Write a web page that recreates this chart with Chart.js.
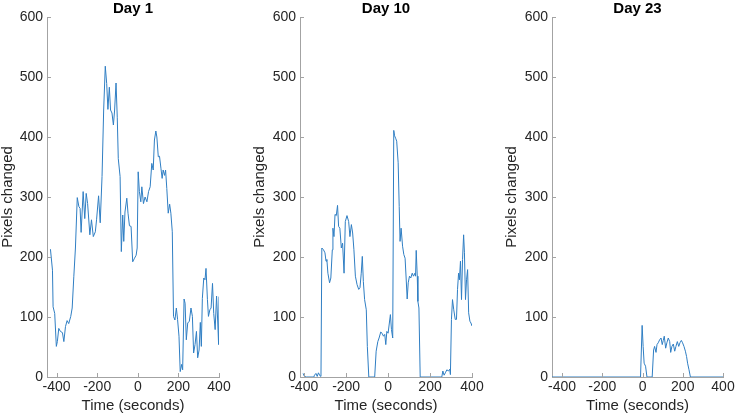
<!DOCTYPE html>
<html lang="en">
<head>
<meta charset="UTF-8">
<title>Pixels changed</title>
<script src="https://cdn.jsdelivr.net/npm/chart.js"></script>
<style>
  body { margin: 0; background: #fff; }
  #wrap { position: relative; width: 737px; height: 419px; }
  canvas { position: absolute; top: 0; }
</style>
</head>
<body>
<div id="wrap">
  <canvas id="day1" width="241" height="419" style="left:0px"></canvas>
  <canvas id="day10" width="240" height="419" style="left:252px"></canvas>
  <canvas id="day23" width="233" height="419" style="left:504px"></canvas>
</div>
<script>
// values
const day1Time = [-430,-420,-417,-409,-401,-396,-389,-381,-371,-364,
  -356,-348,-340,-330,-323,-315,-307,-298,-290,-284,
  -279,-269,-261,-254,-247,-236,-228,-219,-209,-203,
  -193,-185,-176,-168,-160,-153,-147,-140,-134,-127,
  -120,-114,-107,-101,-96,-87,-81,-74,-69,-63,
  -54,-48,-41,-33,-25,-16,-8,-3,2,8,
  15,20,28,36,45,53,61,69,76,82,
  89,94,101,107,114,120,125,132,137,143,
  150,157,163,170,176,183,190,196,203,209,
  216,221,228,233,239,246,254,262,269,275,
  282,289,295,302,308,313,318,325,331,336,
  343,348,355,361,368,374,381,388,394,398,400];
const day1Pixels = [213,178,117,106,51,59,81,76,74,59,
  84,94,89,101,115,167,215,299,284,281,
  241,309,264,306,289,237,262,234,242,262,
  302,257,334,445,518,489,446,483,445,440,
  420,445,490,433,364,334,209,270,226,275,
  298,273,252,251,192,198,203,215,342,309,
  292,317,289,300,292,309,317,356,345,395,
  410,400,367,368,348,331,345,336,345,314,
  273,288,273,242,101,95,115,96,68,9,
  21,12,130,123,62,90,93,115,101,40,
  54,76,32,45,91,51,131,165,162,181,
  129,101,112,115,156,106,79,135,90,54,134];

const day10Time = [-405,-399,-389,-354,-351,-344,-338,-332,-325,-320,
  -316,-308,-301,-296,-292,-287,-279,-273,-266,-263,
  -258,-253,-247,-241,-236,-230,-223,-217,-210,-204,
  -196,-188,-182,-175,-169,-163,-156,-148,-140,-134,
  -128,-123,-118,-112,-104,-99,-92,-64,-57,-49,
  -43,-35,-29,-22,-16,-11,-6,0,6,11,
  16,22,27,31,37,41,48,53,57,62,
  69,75,81,86,91,96,102,108,115,121,
  128,131,134,139,142,147,153,256,261,267,
  273,280,288,294,297,302,307,313,320,326,
  331,336,340,345,350,355,360,364,369,374,
  379,384,390,395,400];
const day10Pixels = [6,1,0,0,3,6,1,7,2,1,
  215,212,207,193,196,173,157,165,212,248,
  234,271,269,286,251,248,215,223,173,259,
  269,259,234,254,240,212,168,154,146,149,
  173,201,159,129,112,51,0,0,43,59,
  65,75,73,68,71,54,76,73,90,104,
  79,65,411,402,397,393,357,284,226,248,
  218,204,198,165,130,157,168,165,173,168,
  173,168,211,168,126,115,0,0,10,3,
  7,12,10,13,4,96,129,112,96,96,
  146,173,162,193,129,196,237,207,129,162,
  179,107,93,90,85];

const day23Time = [-450,-10,-2,3,8,15,22,48,55,60,
  67,72,78,85,92,98,103,108,115,121,
  128,135,140,146,153,160,166,173,180,186,
  193,199,206,213,219,224,231,238,400];
const day23Pixels = [0,0,86,51,23,18,0,0,45,51,
  41,54,57,62,65,54,61,68,48,57,
  65,59,41,51,55,43,51,59,51,57,
  61,57,51,43,34,23,12,0,0];

const panelTitles = ['Day 1', 'Day 10', 'Day 23'];
const panelXMin = [-447, -420, -450];
const xTicks = [-400, -200, 0, 200, 400];
const yTicks = [0, 100, 200, 300, 400, 500, 600];

const axisColor = '#a3a3a3';
const textColor = '#262626';
const lineColor = '#2f7ec3';
const fontFamily = '"Liberation Sans", Arial, Helvetica, sans-serif';

// MATLAB-like ticks pointing into the plot
const innerTicks = {
  id: 'innerTicks',
  afterDatasetsDraw(chart) {
    const {ctx, chartArea: a, scales: {x, y}} = chart;
    ctx.save();
    ctx.strokeStyle = axisColor;
    ctx.lineWidth = 1;
    ctx.beginPath();
    y.ticks.forEach(t => {
      const py = Math.round(y.getPixelForValue(t.value)) + 0.5;
      ctx.moveTo(a.left, py);
      ctx.lineTo(a.left + 4, py);
    });
    x.ticks.forEach(t => {
      const px = Math.round(x.getPixelForValue(t.value)) + 0.5;
      ctx.moveTo(px, a.bottom);
      ctx.lineTo(px, a.bottom - 4);
    });
    ctx.stroke();
    ctx.restore();
  }
};

function makePanel(id, title, times, pixels, xMin, yWidth, rightPad) {
  const points = times.map((t, i) => ({x: t, y: pixels[i]}));
  new Chart(document.getElementById(id), {
    type: 'line',
    data: {
      datasets: [{
        data: points,
        borderColor: lineColor,
        borderWidth: 1,
        pointRadius: 0,
        tension: 0,
        fill: false
      }]
    },
    options: {
      responsive: false,
      animation: false,
      events: [],
      layout: {padding: {left: 0, right: rightPad, top: 0, bottom: 0}},
      plugins: {
        legend: {display: false},
        tooltip: {enabled: false},
        title: {
          display: true,
          fullSize: false,
          text: title,
          color: '#000',
          font: {family: fontFamily, size: 15, weight: 'bold', lineHeight: 1},
          padding: {top: 1, bottom: 1}
        }
      },
      scales: {
        x: {
          type: 'linear',
          min: xMin,
          max: 400,
          afterBuildTicks: s => { s.ticks = xTicks.map(v => ({value: v})); },
          afterFit: s => { s.height = 42; },
          grid: {display: false, drawTicks: false},
          border: {display: true, color: axisColor, width: 1},
          ticks: {color: textColor, padding: 2, maxRotation: 0,
            font: {family: fontFamily, size: 14}},
          title: {display: true, text: 'Time (seconds)', color: textColor,
            font: {family: fontFamily, size: 15, lineHeight: 1},
            padding: {top: 0, bottom: 6}}
        },
        y: {
          min: 0,
          max: 600,
          afterBuildTicks: s => { s.ticks = yTicks.map(v => ({value: v})); },
          afterFit: s => { s.width = yWidth; },
          grid: {display: false, drawTicks: false},
          border: {display: true, color: axisColor, width: 1},
          ticks: {color: textColor, padding: 4,
            font: {family: fontFamily, size: 14}},
          title: {display: true, text: 'Pixels changed', color: textColor,
            font: {family: fontFamily, size: 15, lineHeight: 1.07},
            padding: {top: 0, bottom: 0}}
        }
      }
    },
    plugins: [innerTicks]
  });
}

makePanel('day1', panelTitles[0], day1Time, day1Pixels, panelXMin[0], 47, 22);
makePanel('day10', panelTitles[1], day10Time, day10Pixels, panelXMin[1], 48, 20);
makePanel('day23', panelTitles[2], day23Time, day23Pixels, panelXMin[2], 48, 14);
</script>
</body>
</html>
